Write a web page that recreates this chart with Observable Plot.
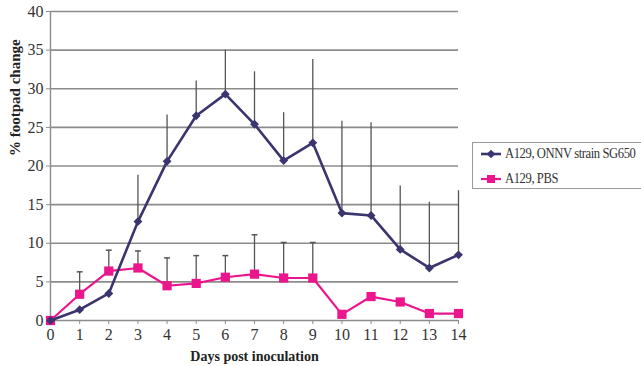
<!DOCTYPE html>
<html>
<head>
<meta charset="utf-8">
<script src="https://cdn.jsdelivr.net/npm/d3@7"></script>
<script src="https://cdn.jsdelivr.net/npm/@observablehq/plot@0.6"></script>
<style>
  html, body { margin: 0; padding: 0; background: #fff; }
  #chart { position: relative; width: 641px; height: 366px; overflow: hidden; }
  #legend {
    position: absolute; left: 472px; top: 142px; width: 180px; height: 47px;
    border: 1.5px solid #9a9a9a; box-sizing: border-box; background: #fff;
    font-family: "Liberation Serif", "Times New Roman", serif; font-size: 14px; letter-spacing: -0.45px; color: #333;
  }
  #legend .item { position: absolute; left: 6px; display: flex; align-items: center; white-space: nowrap; }
  #legend svg { margin-right: 2px; }
  #legend span { display: inline-block; transform: scaleX(0.9); transform-origin: left center; }
</style>
</head>
<body>
<div id="chart"><div id="legend"></div></div>
<script>
// Days post inoculation
const days = [0, 1, 2, 3, 4, 5, 6, 7, 8, 9, 10, 11, 12, 13, 14];

// A129, ONNV strain SG650: mean % footpad change and upper error (SD)
const onnvMean = [0, 1.4, 3.5, 12.8, 20.6, 26.5, 29.3, 25.4, 20.7, 23.0, 13.9, 13.6, 9.2, 6.8, 8.5];
const onnvErr  = [null, null, null, 6.0, 6.0, 4.5, 5.7, 6.8, 6.2, 10.8, 11.9, 12.0, 8.2, 8.5, 8.3];

// A129, PBS: mean % footpad change and upper error (SD)
const pbsMean = [0, 3.4, 6.4, 6.8, 4.5, 4.8, 5.6, 6.0, 5.5, 5.5, 0.8, 3.1, 2.4, 0.9, 0.9];
const pbsErr  = [null, 2.9, 2.7, 2.2, 3.6, 3.6, 2.8, 5.1, 4.6, 4.6, null, null, null, null, null];

const yTicks = [0, 5, 10, 15, 20, 25, 30, 35, 40];

const seriesNames = ["A129, ONNV strain SG650", "A129, PBS"];
const seriesColors = ["#3a346f", "#ec168c"];

const onnv = days.map((d, i) => ({day: d, mean: onnvMean[i], err: onnvErr[i]}));
const pbs = days.map((d, i) => ({day: d, mean: pbsMean[i], err: pbsErr[i]}));
const onnvBars = onnv.filter(d => d.err != null);
const pbsBars = pbs.filter(d => d.err != null);

const gridColor = "#8c8c8c";

const plot = Plot.plot({
  width: 641,
  height: 366,
  marginLeft: 50,
  marginRight: 183,
  marginTop: 11,
  marginBottom: 46,
  style: {fontFamily: "'Liberation Serif', 'Times New Roman', serif", fontSize: "16px", color: "#333", background: "transparent"},
  x: {domain: [0, 14]},
  y: {domain: [0, 40]},
  marks: [
    Plot.ruleY(yTicks, {stroke: gridColor, strokeWidth: 1.6, strokeOpacity: 1}),
    Plot.ruleX([0], {stroke: gridColor, strokeWidth: 1.4}),
    Plot.axisY({ticks: yTicks, tickSize: 4, tickPadding: 3, stroke: gridColor, label: null, fontSize: 16}),
    Plot.axisX({ticks: days, tickSize: 4, tickPadding: 4, stroke: gridColor, label: null, fontSize: 16}),
    Plot.text(["Days post inoculation"], {frameAnchor: "bottom", dy: 40, fontWeight: "bold", fontSize: 14, fill: "#222"}),
    Plot.text(["% footpad change"], {frameAnchor: "left", rotate: -90, dx: -35, dy: -10, fontWeight: "bold", fontSize: 15, fill: "#222"}),
    // error bars
    Plot.ruleX(onnvBars, {x: "day", y1: "mean", y2: d => d.mean + d.err, stroke: "#555", strokeWidth: 1.3}),
    Plot.ruleX(pbsBars, {x: "day", y1: "mean", y2: d => d.mean + d.err, stroke: "#555", strokeWidth: 1.3}),
    Plot.link(pbsBars, {x1: d => d.day - 0.1, x2: d => d.day + 0.1, y1: d => d.mean + d.err, y2: d => d.mean + d.err, stroke: "#555", strokeWidth: 1.5}),
    // series
    Plot.line(pbs, {x: "day", y: "mean", stroke: seriesColors[1], strokeWidth: 2.2}),
    Plot.dot(pbs, {x: "day", y: "mean", symbol: "square", r: 5.2, fill: seriesColors[1]}),
    Plot.line(onnv, {x: "day", y: "mean", stroke: seriesColors[0], strokeWidth: 2.6}),
    Plot.dot(onnv, {x: "day", y: "mean", symbol: "diamond2", r: 4, fill: seriesColors[0], stroke: "none"})
  ]
});
document.getElementById("chart").prepend(plot);

// legend
const legend = document.getElementById("legend");
const symbols = [d3.symbolDiamond2, d3.symbolSquare];
const sizes = [48, 64];
seriesNames.forEach((name, i) => {
  const item = document.createElement("div");
  item.className = "item";
  item.style.top = (i === 0 ? 3 : 28) + "px";
  const sw = d3.create("svg").attr("width", 24).attr("height", 14);
  sw.append("line").attr("x1", 2).attr("x2", 22).attr("y1", 7).attr("y2", 7)
    .attr("stroke", seriesColors[i]).attr("stroke-width", i === 0 ? 2.6 : 2.2);
  sw.append("path").attr("transform", "translate(12,7)")
    .attr("d", d3.symbol(symbols[i], sizes[i])()).attr("fill", seriesColors[i]);
  item.append(sw.node());
  const span = document.createElement("span");
  span.textContent = name;
  item.append(span);
  legend.append(item);
});
</script>
</body>
</html>
